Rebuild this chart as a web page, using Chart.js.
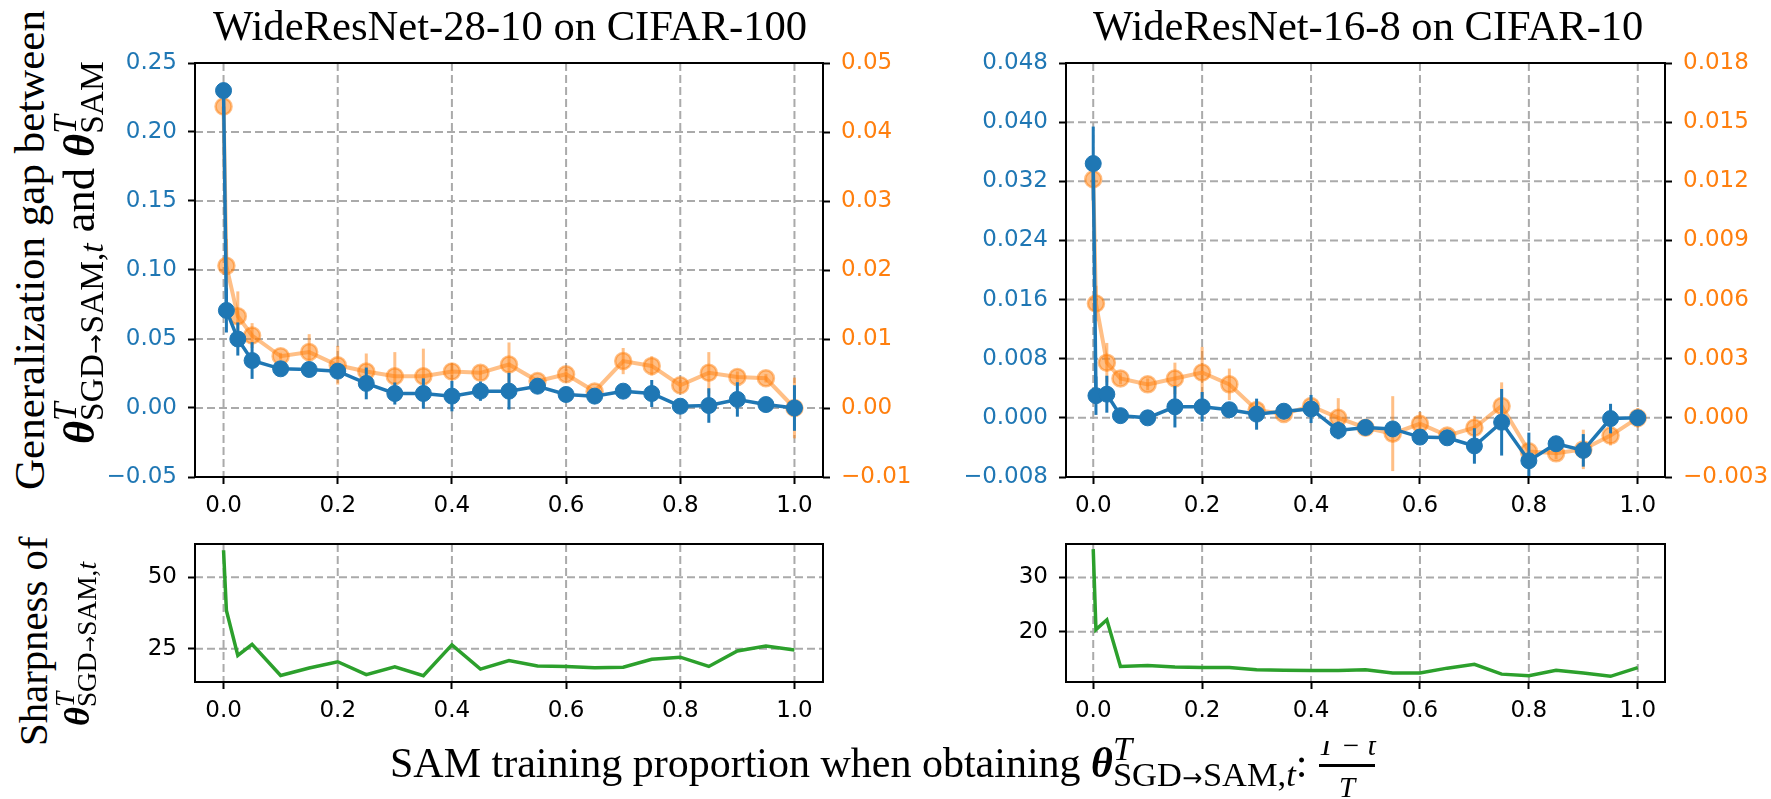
<!DOCTYPE html>
<html><head><meta charset="utf-8">
<script src="https://cdn.jsdelivr.net/npm/chart.js@4.4.0/dist/chart.umd.min.js"></script>
<style>
html,body{margin:0;padding:0;background:#fff;}
body{width:1771px;height:799px;position:relative;overflow:hidden;}
canvas{position:absolute;}
.lbl{position:absolute;left:0;top:0;white-space:nowrap;font-family:'Liberation Serif','Times New Roman',serif;color:#000;line-height:1;transform-origin:0 0;}
.th{font-weight:bold;font-style:italic;}
.ss{display:inline-block;font-size:0.75em;line-height:0.813;vertical-align:-0.28em;text-align:left;}
#xl .ss{font-size:0.82em;line-height:0.75;vertical-align:-0.26em;}
.ss > span{display:block;}
.ss > .sp{font-style:italic;}
.ar{display:inline;font-family:'DejaVu Sans',sans-serif;font-size:0.7em;margin:0 0.02em;}
.bl{display:inline-block;width:0;height:0;vertical-align:baseline;}
.it{font-style:italic;}
#fbar{position:absolute;height:3px;background:#000;}
#fnumWrap{position:absolute;overflow:hidden;}
</style></head>
<body>
<canvas id="cA" width="828" height="499" style="left:95px;top:33px;width:828px;height:499px"></canvas>
<canvas id="cB" width="805" height="499" style="left:966px;top:33px;width:805px;height:499px"></canvas>
<canvas id="cC" width="738" height="223" style="left:95px;top:514px;width:738px;height:223px"></canvas>
<canvas id="cD" width="709" height="223" style="left:966px;top:514px;width:709px;height:223px"></canvas>

<div class="lbl" id="t1"><span class="bl"></span>WideResNet-28-10 on CIFAR-100</div>
<div class="lbl" id="t2"><span class="bl"></span>WideResNet-16-8 on CIFAR-10</div>
<div class="lbl" id="y1a"><span class="bl"></span>Generalization gap between</div>
<div class="lbl" id="y1b"><span class="bl"></span><span class="th">θ</span><span class="ss"><span class="sp">T</span><span>SGD<span class="ar">→</span>SAM,<i>t</i></span></span> and <span class="th">θ</span><span class="ss"><span class="sp">T</span><span>SAM</span></span></div>
<div class="lbl" id="y2a"><span class="bl"></span>Sharpness of</div>
<div class="lbl" id="y2b"><span class="bl"></span><span class="th">θ</span><span class="ss"><span class="sp">T</span><span>SGD<span class="ar">→</span>SAM,<i>t</i></span></span></div>
<div class="lbl" id="xl"><span class="bl"></span>SAM training proportion when obtaining <span class="th">θ</span><span class="ss"><span class="sp">T</span><span>SGD<span class="ar">→</span>SAM,<i>t</i></span></span>:</div>
<div id="fnumWrap"><div class="lbl it" id="fnum"><span class="bl"></span>T − t</div></div>
<div id="fbar"></div>
<div class="lbl it" id="fden"><span class="bl"></span>T</div>

<script>
// ---------------- data ----------------
const xs = [0, 0.005, 0.025, 0.05, 0.1, 0.15, 0.2, 0.25, 0.3, 0.35, 0.4, 0.45, 0.5, 0.55, 0.6, 0.65, 0.7, 0.75, 0.8, 0.85, 0.9, 0.95, 1.0];
const xTicks = [0, 0.2, 0.4, 0.6, 0.8, 1.0];

// WideResNet-28-10 on CIFAR-100
const c100Gap = [0.230, 0.0707, 0.050, 0.0344, 0.0284, 0.0279, 0.0267, 0.0178, 0.0105, 0.0105, 0.0086, 0.0122, 0.0122, 0.0158, 0.0098, 0.0086, 0.0122, 0.0105, 0.0013, 0.0018, 0.0062, 0.0025, 0.0];
const c100GapErr = [0.003, 0.016, 0.012, 0.0133, 0.003, 0.003, 0.004, 0.0115, 0.008, 0.011, 0.011, 0.007, 0.0133, 0.003, 0.003, 0.003, 0.004, 0.0098, 0.004, 0.0125, 0.0125, 0.003, 0.0165];
const c100Acc = [0.0437, 0.0206, 0.0133, 0.0105, 0.0075, 0.0081, 0.0062, 0.0053, 0.0046, 0.0046, 0.0053, 0.0051, 0.0063, 0.0039, 0.0049, 0.0024, 0.0068, 0.0061, 0.0033, 0.0051, 0.0045, 0.0043, 0.0];
const c100AccErr = [0.0005, 0.0039, 0.0036, 0.0018, 0.0005, 0.0026, 0.0028, 0.0026, 0.0035, 0.004, 0.0012, 0.001, 0.0032, 0.0005, 0.0008, 0.0005, 0.0019, 0.0014, 0.0008, 0.003, 0.0008, 0.0006, 0.0044];
const c100Sharp = [59.5, 38.4, 22.6, 26.5, 15.6, 18.2, 20.4, 15.9, 18.6, 15.5, 26.3, 17.8, 20.8, 18.9, 18.75, 18.3, 18.5, 21.3, 22.0, 18.75, 24.2, 25.9, 24.5];
const c100GapTicks = [-0.05, 0, 0.05, 0.10, 0.15, 0.20, 0.25];
const c100AccTicks = [-0.01, 0, 0.01, 0.02, 0.03, 0.04, 0.05];
const c100SharpTicks = [25, 50];

// WideResNet-16-8 on CIFAR-10
const c10Gap = [0.0344, 0.0030, 0.0032, 0.0003, 0.0, 0.0015, 0.0015, 0.0011, 0.0005, 0.0009, 0.0012, -0.0017, -0.0013, -0.0015, -0.0026, -0.0027, -0.0038, -0.0006, -0.0058, -0.0035, -0.0044, -0.0001, 0.0];
const c10GapErr = [0.005, 0.0026, 0.0025, 0.0005, 0.0003, 0.0028, 0.002, 0.0005, 0.0021, 0.001, 0.0019, 0.0012, 0.0005, 0.0008, 0.0005, 0.0005, 0.0024, 0.0045, 0.0038, 0.0008, 0.0022, 0.002, 0.001];
const c10Acc = [0.0121, 0.0058, 0.0028, 0.0020, 0.0017, 0.0020, 0.0023, 0.0017, 0.0004, 0.0002, 0.0006, 0.0, -0.0005, -0.0008, -0.0003, -0.0009, -0.0005, 0.0006, -0.0017, -0.0018, -0.0016, -0.0009, 0.0];
const c10AccErr = [0.0003, 0.0009, 0.001, 0.0003, 0.0003, 0.0008, 0.0013, 0.0008, 0.0003, 0.0003, 0.0004, 0.001, 0.0003, 0.0019, 0.0006, 0.0003, 0.0006, 0.0012, 0.0004, 0.0003, 0.001, 0.0005, 0.0005];
const c10Sharp = [35.2, 20.4, 22.2, 13.6, 13.8, 13.5, 13.4, 13.4, 13.0, 12.9, 12.85, 12.85, 13.0, 12.4, 12.4, 13.3, 14.0, 12.2, 11.9, 12.9, 12.4, 11.8, 13.4];
const c10GapTicks = [-0.008, 0, 0.008, 0.016, 0.024, 0.032, 0.040, 0.048];
const c10AccTicks = [-0.003, 0, 0.003, 0.006, 0.009, 0.012, 0.015, 0.018];
const c10SharpTicks = [20, 30];

// ---------------- styling ----------------
const BLUE = '#1f77b4', ORANGE = '#ff7f0e', ORANGE_A = 'rgba(255,127,14,0.5)', GREEN = '#2ca02c';
const TICKFONT = {family: "'DejaVu Sans'", size: 23};

function fmt(v, dec) {
  const s = Math.abs(v).toFixed(dec);
  return (v < -1e-12 ? '\u2212' : '') + s;
}
function pts(arr) { return xs.map((x, i) => ({x: x, y: arr[i]})); }

const gridPlugin = {
  id: 'dashgrid',
  beforeDatasetsDraw(chart) {
    const {ctx, chartArea: a} = chart;
    const xS = chart.scales.x, yS = chart.scales.y;
    ctx.save();
    ctx.strokeStyle = '#aaaaaa';
    ctx.lineWidth = 2;
    ctx.setLineDash([8, 4]);
    xS.ticks.forEach(t => {
      const px = xS.getPixelForValue(t.value);
      ctx.beginPath(); ctx.moveTo(px, a.top); ctx.lineTo(px, a.bottom); ctx.stroke();
    });
    yS.ticks.forEach(t => {
      const py = yS.getPixelForValue(t.value);
      ctx.beginPath(); ctx.moveTo(a.left, py); ctx.lineTo(a.right, py); ctx.stroke();
    });
    ctx.restore();
  }
};
const errPlugin = {
  id: 'errbars',
  beforeDatasetDraw(chart, args) {
    const ds = chart.data.datasets[args.index];
    if (!ds.errorBars) return;
    const {ctx, chartArea: a} = chart;
    const xS = chart.scales.x, yS = chart.scales[ds.yAxisID];
    ctx.save();
    ctx.beginPath(); ctx.rect(a.left, a.top, a.right - a.left, a.bottom - a.top); ctx.clip();
    ctx.strokeStyle = ds.errColor;
    ctx.lineWidth = 3;
    ds.data.forEach((p, i) => {
      const e = ds.errorBars[i];
      const px = xS.getPixelForValue(p.x);
      ctx.beginPath();
      ctx.moveTo(px, yS.getPixelForValue(p.y + e));
      ctx.lineTo(px, yS.getPixelForValue(p.y - e));
      ctx.stroke();
    });
    ctx.restore();
  }
};
const framePlugin = {
  id: 'frame',
  afterDraw(chart) {
    const {ctx, chartArea: a} = chart;
    ctx.save();
    ctx.strokeStyle = '#000';
    ctx.lineWidth = 2;
    ctx.setLineDash([]);
    ctx.strokeRect(a.left, a.top, a.right - a.left, a.bottom - a.top);
    ctx.restore();
  }
};

function yScale(pos, min, max, tickArr, color, dec, width) {
  return {
    type: 'linear', position: pos, min: min, max: max,
    afterBuildTicks: s => { s.ticks = tickArr.map(v => ({value: v})); },
    afterFit: s => { s.width = width; },
    ticks: {color: color, font: TICKFONT, padding: 11, autoSkip: false, callback: v => fmt(v, dec)},
    grid: {display: true, drawOnChartArea: false, drawTicks: true, tickLength: 7, tickWidth: 2, tickColor: '#000'},
    border: {display: false}
  };
}
function xScale() {
  return {
    type: 'linear', position: 'bottom', min: -0.05, max: 1.05,
    afterBuildTicks: s => { s.ticks = xTicks.map(v => ({value: v})); },
    afterFit: s => { s.height = 55; },
    ticks: {color: '#000', font: TICKFONT, padding: 8, autoSkip: false, maxRotation: 0, callback: v => v.toFixed(1)},
    grid: {display: true, drawOnChartArea: false, drawTicks: true, tickLength: 7, tickWidth: 2, tickColor: '#000'},
    border: {display: false}
  };
}
const common = {
  responsive: false, animation: false, devicePixelRatio: 1, events: [],
  plugins: {legend: {display: false}, tooltip: {enabled: false}, title: {display: false}}
};

function topChart(id, gap, gapErr, acc, accErr, yl, yr, tl, tr, decL, decR, rightW) {
  new Chart(document.getElementById(id), {
    type: 'line',
    data: {datasets: [
      {data: pts(gap), yAxisID: 'y', order: 0, borderColor: BLUE, borderWidth: 3.5,
       pointRadius: 8, pointBackgroundColor: BLUE, pointBorderColor: BLUE, pointBorderWidth: 1,
       tension: 0, fill: false, errorBars: gapErr, errColor: BLUE},
      {data: pts(acc), yAxisID: 'y2', order: 1, borderColor: ORANGE_A, borderWidth: 4,
       pointRadius: 8, pointBackgroundColor: ORANGE_A, pointBorderColor: ORANGE_A, pointBorderWidth: 2.5,
       tension: 0, fill: false, errorBars: accErr, errColor: ORANGE_A}
    ]},
    options: Object.assign({}, common, {
      layout: {padding: {top: 30, left: 0, right: 0, bottom: 0}},
      scales: {
        x: xScale(),
        y: yScale('left', yl[0], yl[1], tl, BLUE, decL, 100),
        y2: yScale('right', yr[0], yr[1], tr, ORANGE, decR, rightW)
      }
    }),
    plugins: [gridPlugin, errPlugin, framePlugin]
  });
}
function bottomChart(id, sharp, yr, tk) {
  new Chart(document.getElementById(id), {
    type: 'line',
    data: {datasets: [
      {data: pts(sharp), yAxisID: 'y', borderColor: GREEN, borderWidth: 3.5, pointRadius: 0, tension: 0, fill: false}
    ]},
    options: Object.assign({}, common, {
      layout: {padding: {top: 30, left: 0, right: 10, bottom: 0}},
      scales: {
        x: xScale(),
        y: yScale('left', yr[0], yr[1], tk, '#000', 0, 100)
      }
    }),
    plugins: [gridPlugin, framePlugin]
  });
}

topChart('cA', c100Gap, c100GapErr, c100Acc, c100AccErr, [-0.05, 0.25], [-0.01, 0.05], c100GapTicks, c100AccTicks, 2, 2, 100);
topChart('cB', c10Gap, c10GapErr, c10Acc, c10AccErr, [-0.008, 0.048], [-0.003, 0.018], c10GapTicks, c10AccTicks, 3, 3, 106);
bottomChart('cC', c100Sharp, [13.3, 61.7], c100SharpTicks);
bottomChart('cD', c10Sharp, [10.75, 36.15], c10SharpTicks);

// ---------------- text labels ----------------
function placeLabel(id, o) {
  const el = document.getElementById(id);
  el.style.fontSize = o.f + 'px';
  if (o.len) {
    const w0 = el.offsetWidth;
    el.style.fontSize = (o.f * o.len / w0) + 'px';
  }
  const w = el.offsetWidth;
  const b = el.querySelector('.bl').offsetTop;
  let left;
  if (o.rot) {
    el.style.left = (o.bx - b) + 'px';
    el.style.top = (o.cy + w / 2) + 'px';
    el.style.transform = 'rotate(-90deg)';
  } else {
    left = (o.x0 !== undefined) ? o.x0 : o.cx - w / 2;
    el.style.left = left + 'px';
    el.style.top = (o.by - b) + 'px';
  }
  return {left: left, w: w, b: b};
}
function layoutText() {
  placeLabel('t1', {f: 42, len: 594, cx: 510, by: 40});
  placeLabel('t2', {f: 42, len: 550, cx: 1368, by: 40});
  placeLabel('y1a', {f: 44, len: 480, cy: 250, bx: 44, rot: true});
  placeLabel('y1b', {f: 42, len: 383, cy: 252, bx: 94, rot: true});
  placeLabel('y2a', {f: 40, len: 210, cy: 641, bx: 47, rot: true});
  placeLabel('y2b', {f: 36, len: 164, cy: 644, bx: 89, rot: true});
  const xl = placeLabel('xl', {f: 42, x0: 390, by: 777});
  const fx = xl.left + xl.w + 12;
  const fw = 56;
  const bar = document.getElementById('fbar');
  bar.style.left = fx + 'px'; bar.style.top = '764px'; bar.style.width = fw + 'px';
  placeLabel('fden', {f: 29, cx: fx + fw / 2, by: 797});
  // numerator: clipped at its top, as in the reference
  const wrap = document.getElementById('fnumWrap');
  wrap.style.left = (fx - 20) + 'px'; wrap.style.top = '741px';
  wrap.style.width = (fw + 40) + 'px'; wrap.style.height = '20px';
  const num = document.getElementById('fnum');
  num.style.fontSize = '29px';
  const nw = num.offsetWidth, nb = num.querySelector('.bl').offsetTop;
  num.style.left = (20 + fw / 2 - nw / 2) + 'px';
  num.style.top = (755 - 741 - nb) + 'px';
}
layoutText();
if (document.fonts && document.fonts.ready) document.fonts.ready.then(layoutText);
</script>
</body></html>
